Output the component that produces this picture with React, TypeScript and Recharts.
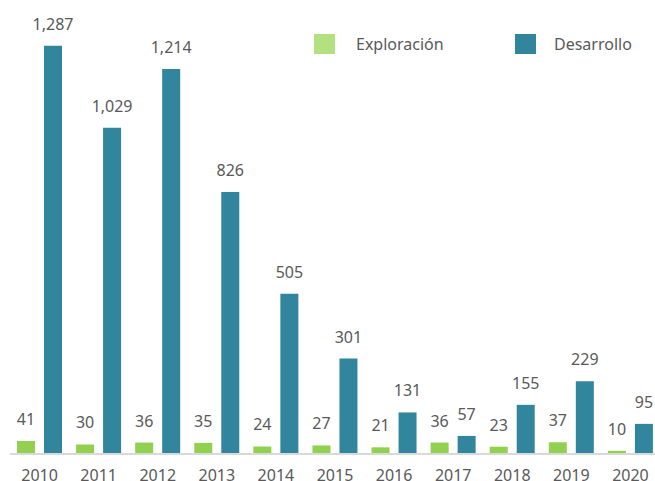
import { BarChart, Bar, XAxis, YAxis, LabelList } from "recharts";

const years = ["2010", "2011", "2012", "2013", "2014", "2015", "2016", "2017", "2018", "2019", "2020"];
const exploracion = [41, 30, 36, 35, 24, 27, 21, 36, 23, 37, 10];
const desarrollo = [1287, 1029, 1214, 826, 505, 301, 131, 57, 155, 229, 95];

const GREEN = "#92d050";
const GREEN_LEGEND = "#b3e081";
const BLUE = "#31859c";
const TEXT = "#595959";
const FONT = "'Noto Sans', sans-serif";

const data = years.map((year, i) => ({
  year,
  exploracion: exploracion[i],
  desarrollo: desarrollo[i],
}));

const fmt = (v: any) => Number(v).toLocaleString("en-US");

// legend drawn as an overlay so it takes no room from the plot
function LegendItem({ color, label, x, textX }: { color: string; label: string; x: number; textX: number }) {
  return (
    <>
      <div style={{ position: "absolute", left: x, top: 34, width: 21, height: 20, background: color }} />
      <div
        style={{
          position: "absolute",
          left: textX,
          top: 34,
          fontSize: 16,
          lineHeight: "20px",
          color: TEXT,
          fontFamily: FONT,
          whiteSpace: "nowrap",
        }}
      >
        {label}
      </div>
    </>
  );
}

export default function App() {
  return (
    <div style={{ position: "relative", width: 655, height: 481, overflow: "hidden" }}>
      <style>{"html,body{margin:0;padding:0;overflow:hidden}"}</style>
      <BarChart
        width={660}
        height={481}
        data={data}
        margin={{ top: 10, right: 0, bottom: 0, left: 10 }}
        barSize={18}
        barGap={9}
        style={{ fontFamily: FONT }}
      >
        <XAxis
          dataKey="year"
          height={27}
          tickLine={false}
          axisLine={{ stroke: "#d9d9d9", strokeWidth: 2 }}
          tickMargin={10}
          tick={{ fill: TEXT, fontSize: 16 }}
          interval={0}
        />
        <YAxis hide domain={[0, 1400]} />
        <Bar dataKey="exploracion" fill={GREEN} isAnimationActive={false}>
          <LabelList dataKey="exploracion" position="top" offset={16} fill={TEXT} fontSize={16} formatter={fmt} />
        </Bar>
        <Bar dataKey="desarrollo" fill={BLUE} isAnimationActive={false}>
          <LabelList dataKey="desarrollo" position="top" offset={16} fill={TEXT} fontSize={16} formatter={fmt} />
        </Bar>
      </BarChart>
      <LegendItem color={GREEN_LEGEND} label="Exploración" x={314} textX={356} />
      <LegendItem color={BLUE} label="Desarrollo" x={515} textX={554} />
    </div>
  );
}
